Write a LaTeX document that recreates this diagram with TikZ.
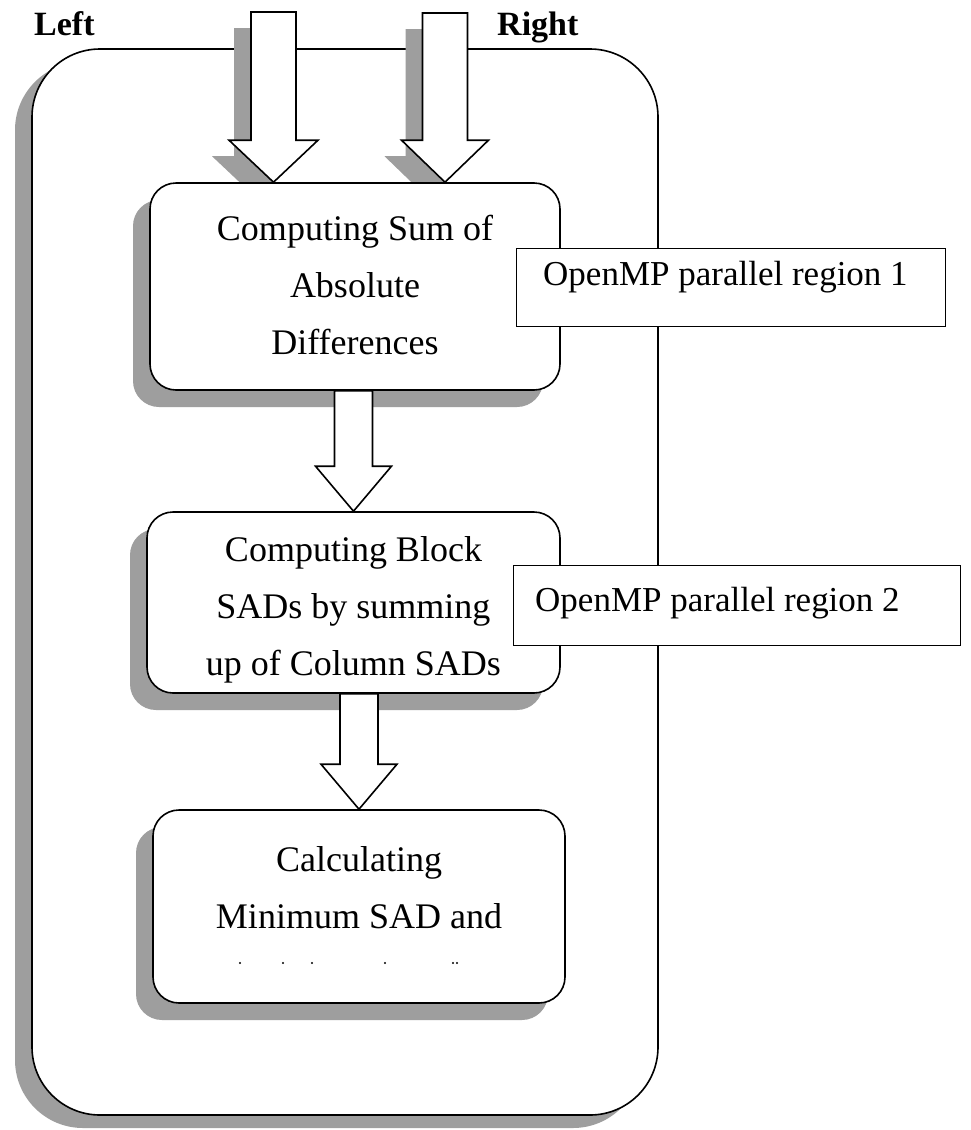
\documentclass[tikz,border=0pt]{standalone}
\usepackage{fontspec}
\setmainfont{Liberation Serif}
\usetikzlibrary{shadows,calc}
\pgfdeclarelayer{bg}
\pgfsetlayers{bg,main}
\newcommand\sstrut{\rule[-17.1pt]{0pt}{57pt}}
\newcommand\blockarr[5]{let \p1=(#1), \p2=(#2) in (\x2-#3,\y1) -- (\x2+#3,\y1) -- (\x2+#3,\y2+#5) -- (\x2+#4,\y2+#5) -- (\x2,\y2) -- (\x2-#4,\y2+#5) -- (\x2-#3,\y2+#5) -- cycle}
\begin{document}
\begin{tikzpicture}[x=1pt,y=-1pt,line join=miter]
\tikzset{
 stepbox/.style={draw, line width=1.6pt, fill=white, rounded corners=26pt, inner sep=0pt, align=center,
   font=\fontsize{36}{57}\selectfont,
   drop shadow={shadow xshift=-17pt, shadow yshift=-17pt, fill=black!38, opacity=1}},
 fatarrow/.style={draw, line width=1.6pt, fill=white},
 ompbox/.style={draw, line width=1.4pt, fill=white, inner sep=0pt, anchor=north west},
 omptext/.style={anchor=base west, font=\fontsize{35}{42}\selectfont, inner sep=0pt},
 sidelabel/.style={anchor=base west, font=\fontsize{34}{40}\selectfont\bfseries, inner sep=0pt},
}
\useasboundingbox (0,0) rectangle (971,1130);

% process boxes
\node[stepbox, minimum width=410pt, minimum height=207pt] (b1) at (355,286.5)
  {\sstrut Computing Sum of\\\sstrut Absolute\\\sstrut Differences};
\node[stepbox, minimum width=413pt, minimum height=175pt] (b2) at (353.5,602.5)
  {\rule[-17.1pt]{0pt}{67pt}Computing Block\\\sstrut SADs by summing\\\sstrut up of Column SADs};
\node[stepbox, minimum width=412pt, minimum height=153pt] (b3) at (359,906.5)
  {\rule[-17.1pt]{0pt}{79pt}Calculating\\\sstrut Minimum SAD and\\\sstrut};

\coordinate (lin) at (273.5,12);
\coordinate (rin) at (445,13);

\begin{pgfonlayer}{bg}
  \node[draw, line width=1.6pt, fill=white, rounded corners=68pt, minimum width=626pt, minimum height=1066pt,
    inner sep=0pt, drop shadow={shadow xshift=-17pt, shadow yshift=-13pt, fill=black!38, opacity=1}] (outer) at (345,582) {};
  \begin{scope}[transform canvas={xshift=-17pt,yshift=-16pt}]
    \fill[black!38] \blockarr{lin}{lin |- b1.north}{22.5pt}{44.5pt}{42pt};
    \fill[black!38] \blockarr{rin}{rin |- b1.north}{22.5pt}{43.5pt}{42pt};
  \end{scope}
\end{pgfonlayer}

% input arrows
\draw[fatarrow] \blockarr{lin}{lin |- b1.north}{22.5pt}{44.5pt}{42pt};
\draw[fatarrow] \blockarr{rin}{rin |- b1.north}{22.5pt}{43.5pt}{42pt};
% flow arrows
\draw[fatarrow] \blockarr{b1.south}{b2.north}{19pt}{38pt}{45pt};
\draw[fatarrow] \blockarr{b2.south}{b3.north}{19pt}{38pt}{45pt};

% faded third line of box 3
\foreach \dx in {240,283,312,385,453,457} \fill (\dx,963) circle (1.2pt);

% OpenMP region labels
\node[ompbox, minimum width=429pt, minimum height=78pt] (r1) at (516,248) {};
\node[omptext] (r1t) at (543,285) {OpenMP parallel region 1};
\node[ompbox, minimum width=447pt, minimum height=80pt] (r2) at (513,565) {};
\node[omptext] (r2t) at (535,611) {OpenMP parallel region 2};

% side labels
\node[sidelabel] (left) at (34,35) {Left};
\node[sidelabel] (right) at (497,35) {Right};
\end{tikzpicture}
\end{document}
